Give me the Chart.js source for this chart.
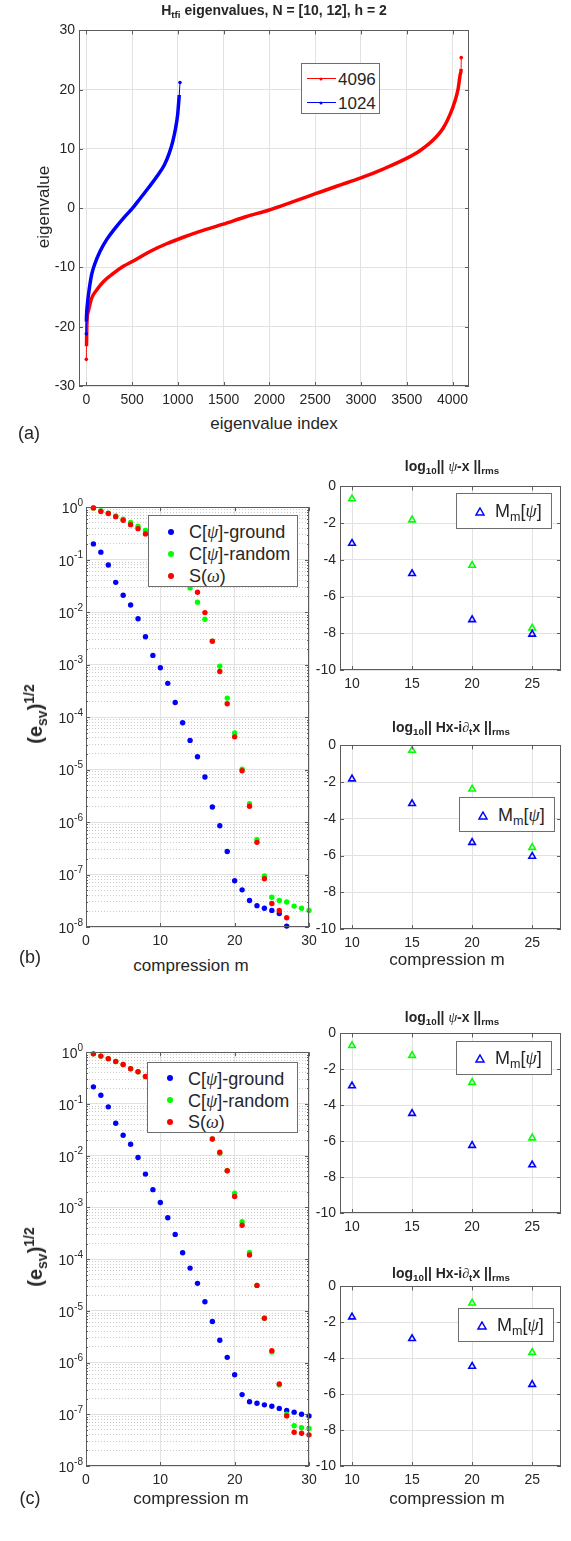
<!DOCTYPE html>
<html>
<head>
<meta charset="utf-8">
<title>TFI eigenvalues and compression errors</title>
<script src="https://cdn.jsdelivr.net/npm/chart.js@4.4.1/dist/chart.umd.min.js"></script>
<style>
  html, body { margin: 0; padding: 0; background: #fff; }
  body { position: relative; width: 571px; height: 1541px; overflow: hidden;
         font-family: "Liberation Sans", Arial, Helvetica, sans-serif; color: #262626; }
  canvas { position: absolute; }
  .t { position: absolute; white-space: nowrap; transform: translate(-50%, -50%); line-height: 1; }
  .t.rot { transform: translate(-50%, -50%) rotate(-90deg); }
  sub, sup { font-size: 70%; line-height: 0; }
  sub { vertical-align: -0.35em; }
  sup { vertical-align: 0.6em; }
  .g { font-family: "Liberation Serif", "DejaVu Serif", serif; font-style: italic; font-weight: normal; }
  .leg { position: absolute; background: #fff; border: 1px solid #6e6e6e; box-sizing: border-box; z-index: 2; }
  .leg .it { position: absolute; white-space: nowrap; transform: translateY(-50%); line-height: 1; }
  .dot { position: absolute; width: 6px; height: 6px; border-radius: 50%; transform: translate(-50%, -50%); }
  .seg { position: absolute; height: 1px; }
  .tri { position: absolute; }
</style>
</head>
<body>

<!-- (a) eigenvalue spectrum -->
<canvas id="chartA"></canvas>
<div class="t" style="left:274px;top:10px;font-size:14px;font-weight:bold">H<sub>tfi</sub> eigenvalues, N = [10, 12], h = 2</div>
<div class="t rot" style="left:43px;top:207px;font-size:17px">eigenvalue</div>
<div class="t" style="left:274px;top:423px;font-size:17px">eigenvalue index</div>
<div class="t" style="left:29px;top:433px;font-size:18px">(a)</div>
<div class="leg" style="left:301px;top:63px;width:79px;height:51px">
  <div class="seg" style="left:5px;top:14px;width:29px;background:#ff0000"></div>
  <div class="dot" style="left:19px;top:14.5px;width:3px;height:3px;background:#ff0000"></div>
  <div class="it" style="left:36px;top:15px;font-size:17px">4096</div>
  <div class="seg" style="left:5px;top:38px;width:29px;background:#0000ff"></div>
  <div class="dot" style="left:19px;top:38.5px;width:3px;height:3px;background:#0000ff"></div>
  <div class="it" style="left:36px;top:39px;font-size:17px">1024</div>
</div>

<!-- (b) -->
<canvas id="chartB"></canvas>
<canvas id="chartB1"></canvas>
<canvas id="chartB2"></canvas>
<div class="t rot" style="left:35px;top:714px;font-size:20px;font-weight:bold">(e<sub>sv</sub>)<sup>1/2</sup></div>
<div class="t" style="left:191px;top:965px;font-size:17px">compression m</div>
<div class="t" style="left:447px;top:959px;font-size:17px">compression m</div>
<div class="t" style="left:30px;top:957px;font-size:18px">(b)</div>
<div class="t" style="left:452px;top:466px;font-size:14px;font-weight:bold">log<sub>10</sub>|| <span class="g">ψ</span>-x ||<sub>rms</sub></div>
<div class="t" style="left:451px;top:727px;font-size:14px;font-weight:bold">log<sub>10</sub>|| Hx-i<span class="g">∂</span><sub>t</sub>x ||<sub>rms</sub></div>
<div class="leg" style="left:148px;top:515px;width:150px;height:72px">
  <div class="dot" style="left:22px;top:15.5px;background:#0000ff"></div>
  <div class="it" style="left:40px;top:16px;font-size:18px">C[<span class="g">ψ</span>]-ground</div>
  <div class="dot" style="left:22px;top:37.5px;background:#00ff00"></div>
  <div class="it" style="left:40px;top:38px;font-size:18px">C[<span class="g">ψ</span>]-random</div>
  <div class="dot" style="left:22px;top:60px;background:#ff0000"></div>
  <div class="it" style="left:40px;top:60px;font-size:18px">S(<span class="g">ω</span>)</div>
</div>
<div class="leg" style="left:456px;top:493px;width:96px;height:36px">
  <svg class="tri" style="left:18px;top:13px" width="10" height="9"><polygon points="5,1 9,8 1,8" fill="none" stroke="#0000ff" stroke-width="1.5"/></svg>
  <div class="it" style="left:38px;top:17px;font-size:18px">M<sub>m</sub>[<span class="g">ψ</span>]</div>
</div>
<div class="leg" style="left:459px;top:797px;width:96px;height:35px">
  <svg class="tri" style="left:18px;top:13px" width="10" height="9"><polygon points="5,1 9,8 1,8" fill="none" stroke="#0000ff" stroke-width="1.5"/></svg>
  <div class="it" style="left:38px;top:17px;font-size:18px">M<sub>m</sub>[<span class="g">ψ</span>]</div>
</div>

<!-- (c) -->
<canvas id="chartC"></canvas>
<canvas id="chartC1"></canvas>
<canvas id="chartC2"></canvas>
<div class="t rot" style="left:35px;top:1257px;font-size:20px;font-weight:bold">(e<sub>sv</sub>)<sup>1/2</sup></div>
<div class="t" style="left:191px;top:1498px;font-size:17px">compression m</div>
<div class="t" style="left:447px;top:1498px;font-size:17px">compression m</div>
<div class="t" style="left:30px;top:1498px;font-size:18px">(c)</div>
<div class="t" style="left:452px;top:1017px;font-size:14px;font-weight:bold">log<sub>10</sub>|| <span class="g">ψ</span>-x ||<sub>rms</sub></div>
<div class="t" style="left:451px;top:1273px;font-size:14px;font-weight:bold">log<sub>10</sub>|| Hx-i<span class="g">∂</span><sub>t</sub>x ||<sub>rms</sub></div>
<div class="leg" style="left:147px;top:1062px;width:151px;height:71px">
  <div class="dot" style="left:22px;top:15px;background:#0000ff"></div>
  <div class="it" style="left:40px;top:15.5px;font-size:18px">C[<span class="g">ψ</span>]-ground</div>
  <div class="dot" style="left:22px;top:37px;background:#00ff00"></div>
  <div class="it" style="left:40px;top:37.5px;font-size:18px">C[<span class="g">ψ</span>]-random</div>
  <div class="dot" style="left:22px;top:59px;background:#ff0000"></div>
  <div class="it" style="left:40px;top:59px;font-size:18px">S(<span class="g">ω</span>)</div>
</div>
<div class="leg" style="left:456px;top:1041px;width:96px;height:34px">
  <svg class="tri" style="left:18px;top:12px" width="10" height="9"><polygon points="5,1 9,8 1,8" fill="none" stroke="#0000ff" stroke-width="1.5"/></svg>
  <div class="it" style="left:38px;top:16px;font-size:18px">M<sub>m</sub>[<span class="g">ψ</span>]</div>
</div>
<div class="leg" style="left:458px;top:1308px;width:96px;height:34px">
  <svg class="tri" style="left:18px;top:12px" width="10" height="9"><polygon points="5,1 9,8 1,8" fill="none" stroke="#0000ff" stroke-width="1.5"/></svg>
  <div class="it" style="left:38px;top:16px;font-size:18px">M<sub>m</sub>[<span class="g">ψ</span>]</div>
</div>

<script>
// ---------- (a) sorted eigenvalues, sampled along the index ----------
const idx4096 = [0, 2, 7, 22, 58, 113, 186, 295, 404, 513, 695, 877, 1059, 1241, 1496, 1750, 1998, 2260, 2496, 2733, 2998, 3242, 3497, 3643, 3788, 3897, 3970, 4025, 4062, 4088, 4094, 4095];
const eig4096 = [-25.5, -23.3, -19.1, -17.4, -15.2, -13.8, -12.4, -11.0, -9.8, -8.9, -7.3, -6.0, -4.9, -3.9, -2.7, -1.4, -0.3, 1.1, 2.4, 3.7, 5.1, 6.6, 8.4, 9.7, 11.5, 13.5, 15.7, 18.0, 20.2, 22.8, 23.5, 25.4];
const idx1024 = [0, 1, 4, 15, 33, 58, 95, 149, 222, 313, 404, 505, 586, 677, 768, 852, 906, 943, 975, 997, 1008, 1015, 1023];
const eig1024 = [-21.2, -19.1, -17.7, -15.7, -13.5, -11.2, -9.3, -7.3, -5.3, -3.4, -1.7, 0, 1.6, 3.4, 5.3, 7.3, 9.3, 11.2, 13.5, 15.7, 17.7, 19.1, 21.2];
const xTicksA = [0, 500, 1000, 1500, 2000, 2500, 3000, 3500, 4000];
const yTicksA = [-30, -20, -10, 0, 10, 20, 30];

// ---------- (b) / (c) singular value tails vs compression m ----------
const mSteps = [1, 2, 3, 4, 5, 6, 7, 8, 9, 10, 11, 12, 13, 14, 15, 16, 17, 18, 19, 20, 21, 22, 23, 24, 25, 26, 27, 28, 29, 30];
const groundB = [0.20, 0.139, 0.079, 0.037, 0.021, 0.0137, 0.0075, 0.0034, 0.0015, 8.7e-4, 4.4e-4, 1.9e-4, 7.8e-5, 3.6e-5, 1.75e-5, 7.2e-6, 1.94e-6, 8.5e-7, 2.74e-7, 7.6e-8, 5.1e-8, 3.2e-8, 2.55e-8, 2.27e-8, 2.07e-8, 1.8e-8, 1.04e-8, null, null, null];
const randomB = [0.97, 0.86, 0.77, 0.68, 0.59, 0.51, 0.435, 0.36, 0.29, 0.22, 0.16, 0.11, 0.065, 0.029, 0.0155, 0.0073, 0.0028, 9.3e-4, 2.3e-4, 5.0e-5, 1.02e-5, 2.24e-6, 4.6e-7, 9.4e-8, 3.7e-8, 3.2e-8, 3.0e-8, 2.5e-8, 2.27e-8, 2.07e-8];
const spectralB = [0.97, 0.83, 0.76, 0.66, 0.565, 0.465, 0.39, 0.31, 0.24, 0.175, 0.125, 0.085, 0.057, 0.038, 0.024, 0.0098, 0.0028, 7.4e-4, 1.8e-4, 4.2e-5, 9.5e-6, 2.0e-6, 4.1e-7, 8.3e-8, 2.8e-8, 2.07e-8, 1.5e-8, null, null, null];
const groundC = [0.214, 0.147, 0.0877, 0.0424, 0.0248, 0.0166, 0.0092, 0.0044, 0.0022, 1.24e-3, 6.3e-4, 3.0e-4, 1.33e-4, 6.7e-5, 3.4e-5, 1.5e-5, 6.2e-6, 2.7e-6, 1.26e-6, 5.8e-7, 2.4e-7, 1.75e-7, 1.63e-7, 1.52e-7, 1.43e-7, 1.3e-7, 1.18e-7, 1.1e-7, 1.0e-7, 9.3e-8];
const randomC = [0.93, 0.84, 0.75, 0.66, 0.58, 0.48, 0.42, 0.34, 0.27, 0.21, 0.16, 0.12, 0.09, 0.065, 0.045, 0.032, 0.021, 0.011, 0.0051, 1.87e-3, 5.3e-4, 1.35e-4, 3.1e-5, 7.2e-6, 1.6e-6, 3.7e-7, 1.0e-7, 6.0e-8, 5.5e-8, 5.3e-8];
const spectralC = [0.93, 0.84, 0.75, 0.66, 0.58, 0.48, 0.42, 0.34, 0.27, 0.21, 0.16, 0.12, 0.09, 0.065, 0.045, 0.032, 0.021, 0.0116, 0.0051, 1.62e-3, 4.5e-4, 1.2e-4, 3.1e-5, 7.2e-6, 1.7e-6, 3.85e-7, 9.3e-8, 4.5e-8, 4.3e-8, 4.0e-8];
const xTicksLog = [0, 10, 20, 30];
const decades = [-8, -7, -6, -5, -4, -3, -2, -1, 0];

// ---------- log10 errors for M_m[psi] at a few m ----------
const mCoarse = [10, 15, 20, 25];
const errGroundB = [-3.10, -4.75, -7.26, -8.05];
const errRandomB = [-0.68, -1.83, -4.30, -7.72];
const resGroundB = [-1.83, -3.17, -5.29, -6.04];
const resRandomB = [null, -0.27, -2.38, -5.56];
const errGroundC = [-2.92, -4.46, -6.24, -7.32];
const errRandomC = [-0.68, -1.23, -2.73, -5.82];
const resGroundC = [-1.70, -2.91, -4.45, -5.46];
const resRandomC = [null, null, -0.93, -3.68];
const xTicksErr = [10, 15, 20, 25];
const yTicksErr = [-10, -8, -6, -4, -2, 0];

// shared look
const FONT = '"Liberation Sans", Arial, sans-serif';
const INK = '#262626';
const GRID = '#e2e2e2';
const MINOR = '#cbcbcb';
const BOX = '#5c5c5c';
const RED = '#ff0000', GREEN = '#00ff00', BLUE = '#0000ff';

const logTicks = [];
decades.forEach(e => {
  for (let k = 1; k <= 9; k++) {
    logTicks.push({value: k * Math.pow(10, e), major: k === 1});
    if (e === 0) break;
  }
});

// box, inward tick marks and 10^k labels
const frame = {
  id: 'frame',
  afterDraw(chart) {
    const {ctx, chartArea: a} = chart;
    const xs = chart.scales.x, ys = chart.scales.y;
    const isLog = ys.type === 'logarithmic';
    ctx.save();
    ctx.strokeStyle = BOX;
    ctx.lineWidth = 1;
    ctx.beginPath();
    xs.ticks.forEach(t => {
      const px = Math.round(xs.getPixelForValue(t.value)) + 0.5;
      ctx.moveTo(px, a.bottom); ctx.lineTo(px, a.bottom - 4);
      ctx.moveTo(px, a.top); ctx.lineTo(px, a.top + 4);
    });
    ys.ticks.forEach(t => {
      const len = isLog && !t.major ? 2 : 4;
      const py = Math.round(ys.getPixelForValue(t.value)) + 0.5;
      ctx.moveTo(a.left, py); ctx.lineTo(a.left + len, py);
      ctx.moveTo(a.right, py); ctx.lineTo(a.right - len, py);
    });
    ctx.stroke();
    ctx.strokeRect(Math.round(a.left) + 0.5, Math.round(a.top) + 0.5,
                   Math.round(a.right - a.left) - 1, Math.round(a.bottom - a.top) - 1);

    if (isLog) {
      ctx.fillStyle = INK;
      ctx.textAlign = 'right';
      ctx.textBaseline = 'middle';
      ys.ticks.forEach(t => {
        if (!t.major) return;
        const py = ys.getPixelForValue(t.value);
        const e = String(Math.round(Math.log10(t.value)));
        const xr = a.left - 3;
        ctx.font = '10px ' + FONT;
        const ew = ctx.measureText(e).width;
        ctx.fillText(e, xr, py - 4);
        ctx.font = '14px ' + FONT;
        ctx.fillText('10', xr - ew, py + 2);
      });
    }
    ctx.restore();
  }
};

function linScale(min, max, tickVals, pad) {
  return {
    type: 'linear', min, max,
    afterBuildTicks: s => { s.ticks = tickVals.map(v => ({value: v})); },
    grid: {color: GRID, drawTicks: false},
    border: {display: false},
    ticks: {
      font: {family: FONT, size: 14}, color: INK, padding: pad, maxRotation: 0, autoSkip: false,
      callback: v => String(v)
    }
  };
}

function logScale() {
  return {
    type: 'logarithmic', min: 1e-8, max: 1,
    afterBuildTicks: s => { s.ticks = logTicks.map(t => ({value: t.value, major: t.major})); },
    grid: {color: c => (c.tick && c.tick.major) ? GRID : MINOR, drawTicks: false},
    border: {display: false, dash: c => (c.tick && c.tick.major) ? [] : [1, 2]},
    ticks: {callback: () => '', autoSkip: false}
  };
}

function makeChart(id, area, type, datasets, xs, ys) {
  const cv = document.getElementById(id);
  const yW = 44, xH = 26, padT = 10, padR = 22;
  cv.width = area.r - area.l + yW + padR;
  cv.height = area.b - area.t + padT + xH;
  cv.style.left = (area.l - yW) + 'px';
  cv.style.top = (area.t - padT) + 'px';
  xs.afterFit = s => { s.height = xH; };
  ys.afterFit = s => { s.width = yW; };
  return new Chart(cv, {
    type,
    data: {datasets},
    options: {
      responsive: false,
      animation: false,
      devicePixelRatio: 1,
      layout: {padding: {top: padT, right: padR, left: 0, bottom: 0}},
      plugins: {legend: {display: false}, tooltip: {enabled: false}},
      scales: {x: xs, y: ys}
    },
    plugins: [frame]
  });
}

function curve(xv, yv, color, order) {
  const last = xv.length - 1;
  return {
    data: xv.map((x, i) => ({x, y: yv[i]})),
    borderColor: color,
    borderWidth: 3.5,
    cubicInterpolationMode: 'monotone',
    pointRadius: c => (c.dataIndex === 0 || c.dataIndex === last) ? 1.8 : 0,
    pointBackgroundColor: color,
    pointBorderWidth: 0,
    segment: {borderWidth: c => (c.p0DataIndex === 0 || c.p1DataIndex === last) ? 1 : undefined},
    order
  };
}

function dots(ms, vals, color, order) {
  return {
    data: ms.map((m, i) => ({x: m, y: vals[i]})),
    showLine: false,
    pointRadius: 2.7,
    pointBackgroundColor: color,
    pointBorderWidth: 0,
    clip: false,
    order
  };
}

function tris(ms, vals, color, order) {
  return {
    data: ms.map((m, i) => ({x: m, y: vals[i]})),
    showLine: false,
    pointStyle: 'triangle',
    pointRadius: 3.8,
    pointBackgroundColor: 'rgba(0,0,0,0)',
    pointBorderColor: color,
    pointBorderWidth: 1.6,
    clip: false,
    order
  };
}

// (a)
makeChart('chartA', {l: 79, t: 28, r: 469, b: 386}, 'line',
  [curve(idx4096, eig4096, RED, 2), curve(idx1024, eig1024, BLUE, 1)],
  linScale(-80, 4180, xTicksA, 6), linScale(-30, 30, yTicksA, 4));

// (b)
makeChart('chartB', {l: 86, t: 507, r: 309, b: 927}, 'scatter',
  [dots(mSteps, groundB, BLUE, 3), dots(mSteps, randomB, GREEN, 2), dots(mSteps, spectralB, RED, 1)],
  linScale(0, 30, xTicksLog, 6), logScale());
makeChart('chartB1', {l: 340, t: 484, r: 561, b: 670}, 'scatter',
  [tris(mCoarse, errGroundB, BLUE, 1), tris(mCoarse, errRandomB, GREEN, 2)],
  linScale(9, 27.4, xTicksErr, 6), linScale(-10, 0, yTicksErr, 4));
makeChart('chartB2', {l: 340, t: 743, r: 561, b: 929}, 'scatter',
  [tris(mCoarse, resGroundB, BLUE, 1), tris(mCoarse, resRandomB, GREEN, 2)],
  linScale(9, 27.4, xTicksErr, 6), linScale(-10, 0, yTicksErr, 4));

// (c)
makeChart('chartC', {l: 86, t: 1052, r: 309, b: 1466}, 'scatter',
  [dots(mSteps, groundC, BLUE, 3), dots(mSteps, randomC, GREEN, 2), dots(mSteps, spectralC, RED, 1)],
  linScale(0, 30, xTicksLog, 6), logScale());
makeChart('chartC1', {l: 340, t: 1031, r: 561, b: 1213}, 'scatter',
  [tris(mCoarse, errGroundC, BLUE, 1), tris(mCoarse, errRandomC, GREEN, 2)],
  linScale(9, 27.4, xTicksErr, 6), linScale(-10, 0, yTicksErr, 4));
makeChart('chartC2', {l: 340, t: 1284, r: 561, b: 1466}, 'scatter',
  [tris(mCoarse, resGroundC, BLUE, 1), tris(mCoarse, resRandomC, GREEN, 2)],
  linScale(9, 27.4, xTicksErr, 6), linScale(-10, 0, yTicksErr, 4));
</script>
</body>
</html>
